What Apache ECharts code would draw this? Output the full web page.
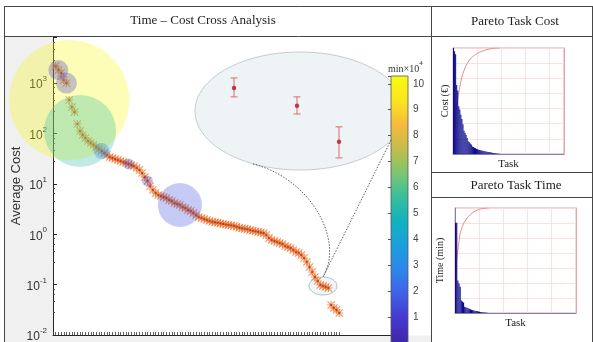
<!DOCTYPE html>
<html>
<head>
<meta charset="utf-8">
<script src="https://cdn.jsdelivr.net/npm/echarts@6/dist/echarts.min.js"></script>
<style>
  html, body { margin: 0; padding: 0; background: #fff; }
  #chart { width: 593px; height: 342px; }
</style>
</head>
<body>
<div id="chart"></div>
<script>
const SANS = '"Liberation Sans", Arial, sans-serif';
const SERIF = '"Liberation Serif", "Times New Roman", serif';

// Average cost per task, tasks ranked from most to least expensive
const avgCost = [
  2170, 1810, 1580, 1150, 1000, 460, 334, 266, 154, 112,
  92.9, 81.1, 70.7, 64.5, 58.9, 53.7, 49.0, 44.7, 40.8, 37.3,
  34.0, 32.5, 31.0, 29.7, 28.3, 27.1, 25.9, 24.7, 23.6, 22.5,
  20.6, 18.8, 16.4, 13.6, 11.4, 9.04, 7.53, 6.56, 5.99, 5.72,
  5.47, 5.22, 4.77, 4.56, 4.16, 3.97, 3.80, 3.47, 3.31, 3.02,
  2.88, 2.63, 2.40, 2.19, 2.10, 2.00, 1.91, 1.83, 1.76, 1.72,
  1.68, 1.64, 1.60, 1.56, 1.53, 1.50, 1.46, 1.40, 1.35, 1.31,
  1.28, 1.25, 1.21, 1.17, 1.14, 1.11, 1.08, 1.05, 0.964, 0.841,
  0.767, 0.733, 0.700, 0.669, 0.640, 0.583, 0.557, 0.532, 0.486, 0.444,
  0.424, 0.386, 0.337, 0.281, 0.223, 0.178, 0.142, 0.118, 0.0982, 0.0938,
  0.0895, 0.0857, 0.0394, 0.0344, 0.0313, 0.0274
];
const taskLabels = avgCost.map((_, i) => String(i + 1));

// Highlighted task clusters: rank, load (bubble area) and total time (×10^4 min)
const bubbleTask = [6, 10, 2, 5, 18, 28, 35, 47];
const bubbleLoad = [3600, 1300, 100, 110, 64, 30, 30, 484];
const bubbleTime = [10.2, 5.4, 0.6, 0.9, 2.6, 1.2, 1.2, 1.6];

// Zoomed detail: mean cost with spread for three low-cost tasks
const insetTask = [97, 100, 102];
const insetMean = [0.105, 0.0929, 0.0723];
const insetLow  = [0.0988, 0.0877, 0.0646];
const insetHigh = [0.1127, 0.0988, 0.0802];

// Pareto panels: per-task cost and time, sorted descending
const paretoCost = [100, 97, 94, 65, 60, 45, 42, 37, 33, 28, 22, 20, 18, 15, 12, 11, 10, 9,
  7, 6.5, 6, 5.5, 5, 4.5, 4, 3.8, 3.5, 3.2, 3, 2.8, 2.6, 2.4, 2.2, 2, 1.8, 1.6, 1.4, 1.2,
  1.0, 0.8, 0.6, 0.5, 0.4, 0.3, 0.2];
const paretoTime = [86, 86, 31, 28, 25, 12, 11, 10, 6, 5.5, 5, 4.5, 4, 3.5, 3, 2.8, 2.5,
  2.2, 2, 1.8, 1.5, 1.2, 1, 0.8, 0.6, 0.5, 0.4, 0.3, 0.2, 0.1];

// Colour bar ticks (×10^4 min)
const colorbarTicks = [1, 2, 3, 4, 5, 6, 7, 8, 9, 10];

const PARULA = ['#3e26a8', '#4538d0', '#4060e6', '#2d86ea', '#1aa0dc', '#12b1bf',
  '#36bf9c', '#7cc672', '#c4bd4b', '#f5bb3d', '#f9e61f', '#f9fb0e'];

const ASTERISK = 'path://M4.3,0h1.4v10h-1.4z M0,4.3h10v1.4h-10z M0.99,0L10,9.01L9.01,10L0,0.99z M9.01,0L10,0.99L0.99,10L0,9.01z';

function cumulativePercent(arr) {
  const total = arr.reduce((a, b) => a + b, 0);
  let s = 0;
  return arr.map(v => { s += v; return 100 * s / total; });
}

const chart = echarts.init(document.getElementById('chart'), null, { renderer: 'canvas' });

const frame = '#474747';
const hLine = (id, x1, x2, y) => ({ id, type: 'line', shape: { x1, y1: y, x2, y2: y }, style: { stroke: frame, lineWidth: 1 }, z: 100, silent: true });
const vLine = (id, x, y1, y2) => ({ id, type: 'line', shape: { x1: x, y1, x2: x, y2 }, style: { stroke: frame, lineWidth: 1 }, z: 100, silent: true });
const label = (id, text, x, y, font, size, rotation) => ({
  id, type: 'text', x, y, rotation: rotation || 0, silent: true, z: 50,
  style: { text, fontFamily: font, fontSize: size, fill: '#222', align: 'center', verticalAlign: 'middle' }
});

const paretoXAxis = (gridIndex, every) => ({
  gridIndex, type: 'category', data: taskLabels, boundaryGap: true,
  axisLine: { show: true, lineStyle: { color: '#8080b8', width: 1 } },
  axisTick: { show: false }, axisLabel: { show: false },
  splitLine: { show: true, interval: (i) => i > 0 && i % every === 0, lineStyle: { color: '#f6dada', width: 0.8 } },
  name: 'Task', nameLocation: 'middle', nameGap: 5,
  nameTextStyle: { fontFamily: SERIF, fontSize: 11, color: '#222', verticalAlign: 'top' }
});
const paretoBarAxis = (gridIndex, name, gap) => ({
  gridIndex, type: 'value', min: 0, max: 100,
  axisLine: { show: true, lineStyle: { color: '#8080b8', width: 1 } },
  axisTick: { show: false }, axisLabel: { show: false }, splitLine: { show: false },
  name, nameLocation: 'middle', nameGap: gap,
  nameTextStyle: { fontFamily: SERIF, fontSize: 10, color: '#222' }
});
const paretoCumAxis = (gridIndex) => ({
  gridIndex, type: 'value', min: 0, max: 100, interval: 100 / 7, position: 'right',
  axisLine: { show: true, lineStyle: { color: '#e8a3a3', width: 1 } },
  axisTick: { show: false }, axisLabel: { show: false },
  splitLine: { show: true, lineStyle: { color: '#f6dada', width: 0.8 } }
});

const option = {
  backgroundColor: '#ffffff',
  animation: false,
  grid: [
    { left: 53, top: 37, width: 339, height: 298, outerBoundsMode: 'none' },
    { left: 53, top: 37, width: 286.2, height: 298, outerBoundsMode: 'none' },
    { left: 453, top: 48, width: 111, height: 106, show: true, borderColor: '#e8a3a3', borderWidth: 1, backgroundColor: 'transparent', outerBoundsMode: 'none' },
    { left: 455, top: 208, width: 121, height: 105, show: true, borderColor: '#e8a3a3', borderWidth: 1, backgroundColor: 'transparent', outerBoundsMode: 'none' },
    { left: 192, top: 52, width: 189, height: 118, outerBoundsMode: 'none' },
    { left: 391, top: 76, width: 17, height: 267, show: true, borderColor: '#555', borderWidth: 0.8, backgroundColor: 'transparent', z: 10, outerBoundsMode: 'none' }
  ],
  xAxis: [
    { gridIndex: 0, type: 'value', min: 0, max: 1,
      axisLine: { show: true, lineStyle: { color: '#262626', width: 1 } },
      axisTick: { show: false }, axisLabel: { show: false }, splitLine: { show: false } },
    { gridIndex: 1, type: 'value', min: 0, max: 106, interval: 1,
      axisLine: { show: false },
      axisTick: { show: true, inside: true, length: 3, lineStyle: { color: '#333', width: 0.8 } },
      axisLabel: { show: false }, splitLine: { show: false } },
    paretoXAxis(2, 23),
    paretoXAxis(3, 21),
    { gridIndex: 4, type: 'value', min: 95, max: 104, show: false },
    { gridIndex: 5, type: 'value', min: 0, max: 1, show: false }
  ],
  yAxis: [
    { gridIndex: 0, type: 'value', min: 0, max: 1, show: false },
    { gridIndex: 1, type: 'log', logBase: 10, min: 0.01, max: 8200,
      axisLine: { show: true, lineStyle: { color: '#262626', width: 1 } },
      axisTick: { show: true, inside: true, length: 4, lineStyle: { color: '#262626' } },
      minorTick: { show: true, splitNumber: 5, length: 2, lineStyle: { color: '#444' } },
      splitLine: { show: false },
      axisLabel: {
        margin: 6,
        formatter: (v) => {
          const e = Math.log10(v), r = Math.round(e);
          return Math.abs(e - r) > 1e-6 ? '' : '{b|10}{e|' + r + '}';
        },
        rich: {
          b: { fontFamily: SANS, fontSize: 12, color: '#333', lineHeight: 16, verticalAlign: 'bottom' },
          e: { fontFamily: SANS, fontSize: 8, color: '#333', lineHeight: 8, verticalAlign: 'top' }
        }
      },
      name: 'Average Cost', nameLocation: 'middle', nameGap: 30,
      nameTextStyle: { fontFamily: SANS, fontSize: 13, color: '#333' } },
    paretoBarAxis(2, 'Cost (€)', 3),
    paretoCumAxis(2),
    paretoBarAxis(3, 'Time (min)', 10),
    paretoCumAxis(3),
    { gridIndex: 4, type: 'log', min: 0.0594, max: 0.135, show: false },
    { gridIndex: 5, type: 'value', min: 0, max: 10.3, interval: 1, position: 'right', z: 10,
      axisLine: { show: false },
      axisTick: { show: true, inside: true, length: 3, lineStyle: { color: '#555' } },
      axisLabel: { margin: 5, fontFamily: SANS, fontSize: 10, color: '#444',
        formatter: (v) => colorbarTicks.includes(v) ? String(v) : '' },
      splitLine: { show: false } }
  ],
  visualMap: {
    type: 'continuous', seriesIndex: 2, dimension: 3,
    min: 0, max: 10.3, calculable: false, realtime: false,
    orient: 'vertical', left: 391, top: 76, itemWidth: 17, itemHeight: 267,
    padding: 0, text: null, showLabel: false,
    inRange: { color: PARULA }
  },
  series: [
    { type: 'scatter', xAxisIndex: 1, yAxisIndex: 1, clip: false, silent: true, z: 3,
      symbol: ASTERISK, symbolSize: 8, symbolKeepAspect: true,
      itemStyle: { color: '#ef7b36' },
      data: avgCost.map((v, i) => [i + 1, v]) },
    { type: 'scatter', xAxisIndex: 1, yAxisIndex: 1, clip: false, silent: true, z: 4,
      symbol: 'circle', symbolSize: 2.2,
      itemStyle: { color: '#9c2f28', opacity: 0.8 },
      data: avgCost.map((v, i) => [i + 1, v]) },
    { type: 'scatter', xAxisIndex: 1, yAxisIndex: 1, clip: false, silent: true, z: 5,
      symbolSize: (d) => 2 * Math.sqrt(d[2]),
      itemStyle: { opacity: 0.3 },
      data: bubbleTask.map((t, k) => [t, avgCost[t - 1], bubbleLoad[k], bubbleTime[k]]) },
    { type: 'line', xAxisIndex: 2, yAxisIndex: 3, showSymbol: false, silent: true, z: 2,
      lineStyle: { color: '#e98b8b', width: 1 },
      data: cumulativePercent(paretoCost) },
    { type: 'bar', xAxisIndex: 2, yAxisIndex: 2, silent: true, z: 3,
      barCategoryGap: 0, itemStyle: { color: '#0c0c8c' },
      data: paretoCost },
    { type: 'line', xAxisIndex: 3, yAxisIndex: 5, showSymbol: false, silent: true, z: 2,
      lineStyle: { color: '#e98b8b', width: 1 },
      data: cumulativePercent(paretoTime) },
    { type: 'bar', xAxisIndex: 3, yAxisIndex: 4, silent: true, z: 3,
      barCategoryGap: 0, itemStyle: { color: '#0c0c8c' },
      data: paretoTime },
    { type: 'custom', xAxisIndex: 4, yAxisIndex: 6, silent: true, z: 6,
      encode: { x: 0, y: [1, 2] },
      data: insetTask.map((t, k) => [t, insetLow[k], insetHigh[k]]),
      renderItem: (params, api) => {
        const x = api.value(0);
        const lo = api.coord([x, api.value(1)]);
        const hi = api.coord([x, api.value(2)]);
        const c = 3.5;
        const st = { stroke: '#e06a6a', lineWidth: 1 };
        return { type: 'group', children: [
          { type: 'line', shape: { x1: lo[0], y1: lo[1], x2: hi[0], y2: hi[1] }, style: st },
          { type: 'line', shape: { x1: lo[0] - c, y1: lo[1], x2: lo[0] + c, y2: lo[1] }, style: st },
          { type: 'line', shape: { x1: hi[0] - c, y1: hi[1], x2: hi[0] + c, y2: hi[1] }, style: st }
        ] };
      } },
    { type: 'scatter', xAxisIndex: 4, yAxisIndex: 6, silent: true, z: 7,
      symbol: 'circle', symbolSize: 4.5, itemStyle: { color: '#c0102a' },
      data: insetTask.map((t, k) => [t, insetMean[k]]) }
  ],
  graphic: {
    elements: [
      { id: 'bgLeft', type: 'rect', shape: { x: 5, y: 37, width: 48, height: 305 }, style: { fill: '#f0f0f0' }, z: -10, silent: true },
      { id: 'bgBottom', type: 'rect', shape: { x: 53, y: 335.5, width: 378, height: 7 }, style: { fill: '#f0f0f0' }, z: -10, silent: true },
      { id: 'zoomLens', type: 'ellipse', shape: { cx: 300, cy: 111, rx: 105, ry: 59 },
        style: { fill: '#eef3f5', stroke: '#c5ccd0', lineWidth: 1 }, z: 1, silent: true },
      label('tMain', 'Time – Cost Cross Analysis', 203, 21, SERIF, 13),
      label('tCost', 'Pareto Task Cost', 515, 22, SERIF, 13),
      label('tTime', 'Pareto Task Time', 516, 186, SERIF, 13),
      { id: 'cbUnit', type: 'text', x: 388, y: 67, silent: true, z: 50,
        style: { text: '{a|min×10}{s|4}', verticalAlign: 'middle', align: 'left',
          rich: { a: { fontFamily: SERIF, fontSize: 10, fill: '#333', color: '#333', lineHeight: 14, verticalAlign: 'bottom' },
                  s: { fontFamily: SERIF, fontSize: 7, fill: '#333', color: '#333', lineHeight: 8, verticalAlign: 'top' } } } },
      hLine('fTop', 4, 593, 6.5),
      hLine('fHead', 4, 593, 36.5),
      hLine('fR1', 431, 593, 172.5),
      hLine('fR2', 431, 593, 197.5),
      vLine('fLeft', 4.5, 6, 342),
      vLine('fMid', 431.5, 6, 342),
      vLine('fRight', 592.5, 6, 342)
    ]
  }
};

chart.setOption(option);

// Outline the magnified region and link it to the detail lens
const focus = chart.convertToPixel({ gridIndex: 1 }, [insetTask[1], avgCost[insetTask[1] - 1]]);
const tip = [focus[0], focus[1] - 9];
const dotted = { stroke: '#333', lineWidth: 0.8, lineDash: [1.5, 1.5], fill: null };
chart.setOption({
  graphic: {
    elements: [
      { id: 'focusRing', type: 'ellipse', shape: { cx: focus[0], cy: focus[1], rx: 14, ry: 9 },
        style: { fill: 'rgba(228,237,242,0.55)', stroke: '#a8c2d4', lineWidth: 1 }, z: 1, silent: true },
      { id: 'linkLeft', type: 'bezierCurve',
        shape: { x1: 253, y1: 164, cpx1: 310, cpy1: 178, cpx2: 345, cpy2: 240, x2: tip[0], y2: tip[1] },
        style: dotted, z: 8, silent: true },
      { id: 'linkRight', type: 'line',
        shape: { x1: 391, y1: 140, x2: tip[0], y2: tip[1] },
        style: dotted, z: 8, silent: true }
    ]
  }
});
</script>
</body>
</html>
